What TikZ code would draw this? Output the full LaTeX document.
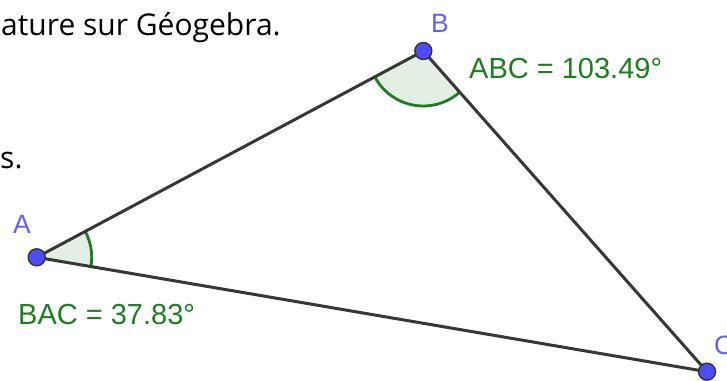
\documentclass[tikz,border=0pt]{standalone}
\usepackage{fontspec}
\setmainfont{Liberation Sans}
\newfontfamily\wordfont{Open Sans}
\usetikzlibrary{angles}
\definecolor{ggblue}{RGB}{77,77,255}
\definecolor{gglabel}{RGB}{95,95,255}
\definecolor{gggreen}{RGB}{30,125,30}
\definecolor{ggfill}{RGB}{228,239,228}
\definecolor{ggline}{RGB}{55,55,55}
\begin{document}
\begin{tikzpicture}[x=1pt,y=-1pt,
  seg/.style={draw=ggline,line width=3pt},
  pt/.style={circle,fill=ggblue,draw=black!80,line width=1.4pt,minimum size=17pt,inner sep=0pt},
  ptlabel/.style={text=gglabel,font=\fontsize{26.5}{30}\selectfont,inner sep=0pt},
  anglabel/.style={text=gggreen,font=\fontsize{29}{34}\selectfont,inner sep=0pt},
  bodytext/.style={text=black,font=\wordfont\fontsize{30}{36}\selectfont,inner sep=0pt},
  angmark/.style={draw=gggreen,line width=2.8pt,fill=ggfill,angle radius=55pt}]
\useasboundingbox (0,0) rectangle (727,380);
\fill[white] (0,0) rectangle (727,380);
\coordinate (pA) at (36.7,257.3);
\coordinate (pB) at (423.3,51);
\coordinate (pC) at (707,371.7);
\pic[angmark] {angle = pC--pA--pB};
\pic[angmark] {angle = pA--pB--pC};
\draw[seg] (pA) -- (pB);
\draw[seg] (pB) -- (pC);
\draw[seg] (pA) -- (pC);
\node[pt] (A) at (pA) {};
\node[pt] (B) at (pB) {};
\node[pt] (C) at (pC) {};
\node[ptlabel] (lA) at (22,224) {A};
\node[ptlabel] (lB) at (440,23) {B};
\node[ptlabel,anchor=west] (lC) at (714,345) {C};
\node[anglabel,anchor=base west] (abc) at (469,78) {ABC = 103.49°};
\node[anglabel,anchor=base west] (bac) at (18,324) {BAC = 37.83°};
\node[bodytext,anchor=base west] (t1) at (1,35) {ature sur Géogebra.};
\node[bodytext,anchor=base west] (t2) at (0,168) {s.};
\end{tikzpicture}
\end{document}
